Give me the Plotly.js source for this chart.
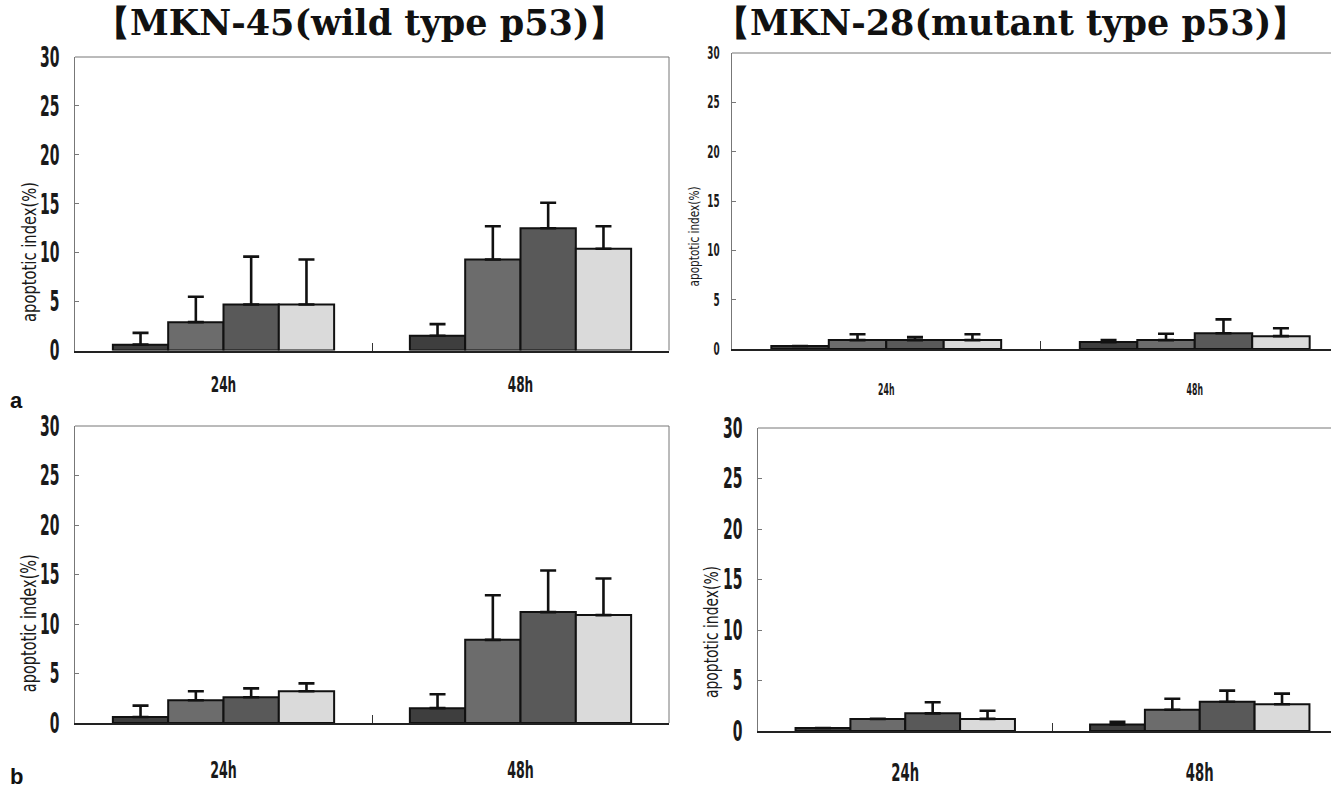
<!DOCTYPE html>
<html>
<head>
<meta charset="utf-8">
<script src="https://cdn.plot.ly/plotly-3.0.1.min.js"></script>
<style>
html,body{margin:0;padding:0;overflow:hidden;background:#fff;width:1331px;height:788px;}
#chart{width:1350px;height:788px;}
</style>
</head>
<body>
<div id="chart"></div>
<script>
// ---- data ----
const timepoints = ['24h', '48h'];
const yTicks = [0, 5, 10, 15, 20, 25, 30];
const titleLeft = '【MKN-45(wild type p53)】';
const titleRight = '【MKN-28(mutant type p53)】';
const yTitle = 'apoptotic index(%)';
const panelLetters = ['a', 'b'];

// panel a, MKN-45 : four treatment groups (rows) x time points (cols)
const aWildMean = [[0.6, 1.5], [2.9, 9.3], [4.7, 12.5], [4.7, 10.4]];
const aWildErr  = [[1.2, 1.2], [2.6, 3.4], [4.9, 2.6], [4.6, 2.3]];
// panel a, MKN-28
const aMutMean  = [[0.3, 0.7], [0.9, 0.9], [0.9, 1.6], [0.9, 1.3]];
const aMutErr   = [[0.0, 0.2], [0.6, 0.65], [0.3, 1.4], [0.6, 0.8]];
// panel b, MKN-45
const bWildMean = [[0.6, 1.5], [2.3, 8.4], [2.6, 11.2], [3.2, 10.9]];
const bWildErr  = [[1.15, 1.4], [0.9, 4.5], [0.9, 4.2], [0.8, 3.7]];
// panel b, MKN-28
const bMutMean  = [[0.3, 0.65], [1.2, 2.1], [1.75, 2.9], [1.2, 2.65]];
const bMutErr   = [[0.0, 0.25], [0.0, 1.1], [1.1, 1.1], [0.8, 1.05]];

// ---- styles ----
const barColors = ['#3e3e3e', '#6c6c6c', '#595959', '#dadada'];
const sans = '"DejaVu Sans", sans-serif';
const W = 1350, H = 788;

// px: plot x-extent, py: plot y-extent, tick/xt: font sizes, sq*: horizontal squeeze,
// ty: y-title [x, yCenter, length, size]
const panels = [
  {mean: aWildMean, err: aWildErr, xa: 'x',  ya: 'y',  px: [75, 669],  py: [57, 350.5],
   tick: 28, sqT: 0.5, xt: 22, sqX: 0.55, stand: 13, ystand: 9, ty: [29, 252, 140, 20]},
  {mean: aMutMean,  err: aMutErr,  xa: 'x2', ya: 'y2', px: [732, 1349], py: [53, 349],
   tick: 17, sqT: 0.52, xt: 15, sqX: 0.52, stand: 26, ystand: 8, ty: [694, 237, 100, 14]},
  {mean: bWildMean, err: bWildErr, xa: 'x3', ya: 'y3', px: [75, 669],  py: [426, 723],
   tick: 28, sqT: 0.5, xt: 23, sqX: 0.55, stand: 25, ystand: 9, ty: [29, 623, 138, 21]},
  {mean: bMutMean,  err: bMutErr,  xa: 'x4', ya: 'y4', px: [758, 1347], py: [428, 731],
   tick: 28, sqT: 0.5, xt: 24, sqX: 0.55, stand: 19, ystand: 9, ty: [711, 632, 132, 20]}
];

const data = [];
const layout = {
  width: W, height: H,
  margin: {l: 0, r: 0, t: 0, b: 0},
  paper_bgcolor: '#fff', plot_bgcolor: '#fff',
  showlegend: false,
  barmode: 'group', bargap: 0.255, bargroupgap: 0,
  annotations: [], shapes: []
};

panels.forEach((p, i) => {
  p.mean.forEach((row, s) => {
    data.push({
      type: 'bar', x: timepoints, y: row, xaxis: p.xa, yaxis: p.ya,
      marker: {color: barColors[s], line: {color: '#111', width: 2}},
      error_y: {type: 'data', symmetric: false, array: p.err[s],
                arrayminus: p.err[s].map(() => 0),
                color: '#111', thickness: 2.6, width: 8},
      hoverinfo: 'skip'
    });
  });
  const sfx = i === 0 ? '' : String(i + 1);
  layout['xaxis' + sfx] = {
    domain: [p.px[0] / W, p.px[1] / W],
    anchor: p.ya,
    type: 'category',
    showline: true, linecolor: '#222', linewidth: 2,
    ticks: 'inside', tickson: 'boundaries', ticklen: 8, tickwidth: 1, tickcolor: '#333',
    ticklabelstandoff: p.stand,
    tickfont: {family: sans, size: p.xt, color: '#1a1a1a', weight: 'bold'},
    showgrid: false, zeroline: false, fixedrange: true
  };
  layout['yaxis' + sfx] = {
    domain: [1 - p.py[1] / H, 1 - p.py[0] / H],
    anchor: p.xa,
    range: [0, 30], tickvals: yTicks,
    showline: true, linecolor: '#777', linewidth: 1,
    ticks: 'inside', ticklen: 4, tickcolor: '#777',
    ticklabelstandoff: p.ystand,
    tickfont: {family: sans, size: p.tick, color: '#1a1a1a', weight: 'bold'},
    showgrid: false, zeroline: false, fixedrange: true
  };
  // frame top & right borders
  layout.shapes.push({type: 'line', xref: p.xa + ' domain', yref: p.ya + ' domain',
    x0: 0, x1: 1, y0: 1, y1: 1, line: {color: '#777', width: 1}});
  layout.shapes.push({type: 'line', xref: p.xa + ' domain', yref: p.ya + ' domain',
    x0: 1, x1: 1, y0: 0, y1: 1, line: {color: '#777', width: 1}});
  // y-axis title (annotation so it can sit where the original has it)
  layout.annotations.push({text: yTitle, xref: 'paper', yref: 'paper',
    x: p.ty[0] / W, y: 1 - p.ty[1] / H, textangle: -90,
    xanchor: 'center', yanchor: 'middle', showarrow: false,
    font: {family: sans, size: p.ty[3], color: '#1a1a1a'}});
});

layout.annotations.push(
  {text: '<b>' + titleLeft + '</b>', xref: 'paper', yref: 'paper', x: 360 / W, y: 1 - 22 / H,
   xanchor: 'center', yanchor: 'middle', showarrow: false,
   font: {family: '"DejaVu Serif", serif', size: 35, color: '#111'}},
  {text: '<b>' + titleRight + '</b>', xref: 'paper', yref: 'paper', x: 1010 / W, y: 1 - 22 / H,
   xanchor: 'center', yanchor: 'middle', showarrow: false,
   font: {family: '"DejaVu Serif", serif', size: 35, color: '#111'}},
  {text: '<b>' + panelLetters[0] + '</b>', xref: 'paper', yref: 'paper', x: 8 / W, y: 1 - 400 / H,
   xanchor: 'left', yanchor: 'middle', showarrow: false,
   font: {family: '"Liberation Sans", Arial, sans-serif', size: 22, color: '#111'}},
  {text: '<b>' + panelLetters[1] + '</b>', xref: 'paper', yref: 'paper', x: 8 / W, y: 1 - 776 / H,
   xanchor: 'left', yanchor: 'middle', showarrow: false,
   font: {family: '"Liberation Sans", Arial, sans-serif', size: 22, color: '#111'}}
);

function squeezeText(t, len) {
  t.setAttribute('textLength', len.toFixed(1));
  t.setAttribute('lengthAdjust', 'spacingAndGlyphs');
}

Plotly.newPlot('chart', data, layout, {displayModeBar: false, staticPlot: true}).then(gd => {
  panels.forEach((p, i) => {
    gd.querySelectorAll('.' + p.xa + 'tick text').forEach(t =>
      squeezeText(t, t.getComputedTextLength() * p.sqX));
    gd.querySelectorAll('.' + p.ya + 'tick text').forEach(t =>
      squeezeText(t, t.getComputedTextLength() * p.sqT));
  });
  const annTexts = gd.querySelectorAll('.annotation-text');
  panels.forEach((p, i) => {
    if (annTexts[i]) squeezeText(annTexts[i], p.ty[2]);
  });
});
</script>
</body>
</html>
